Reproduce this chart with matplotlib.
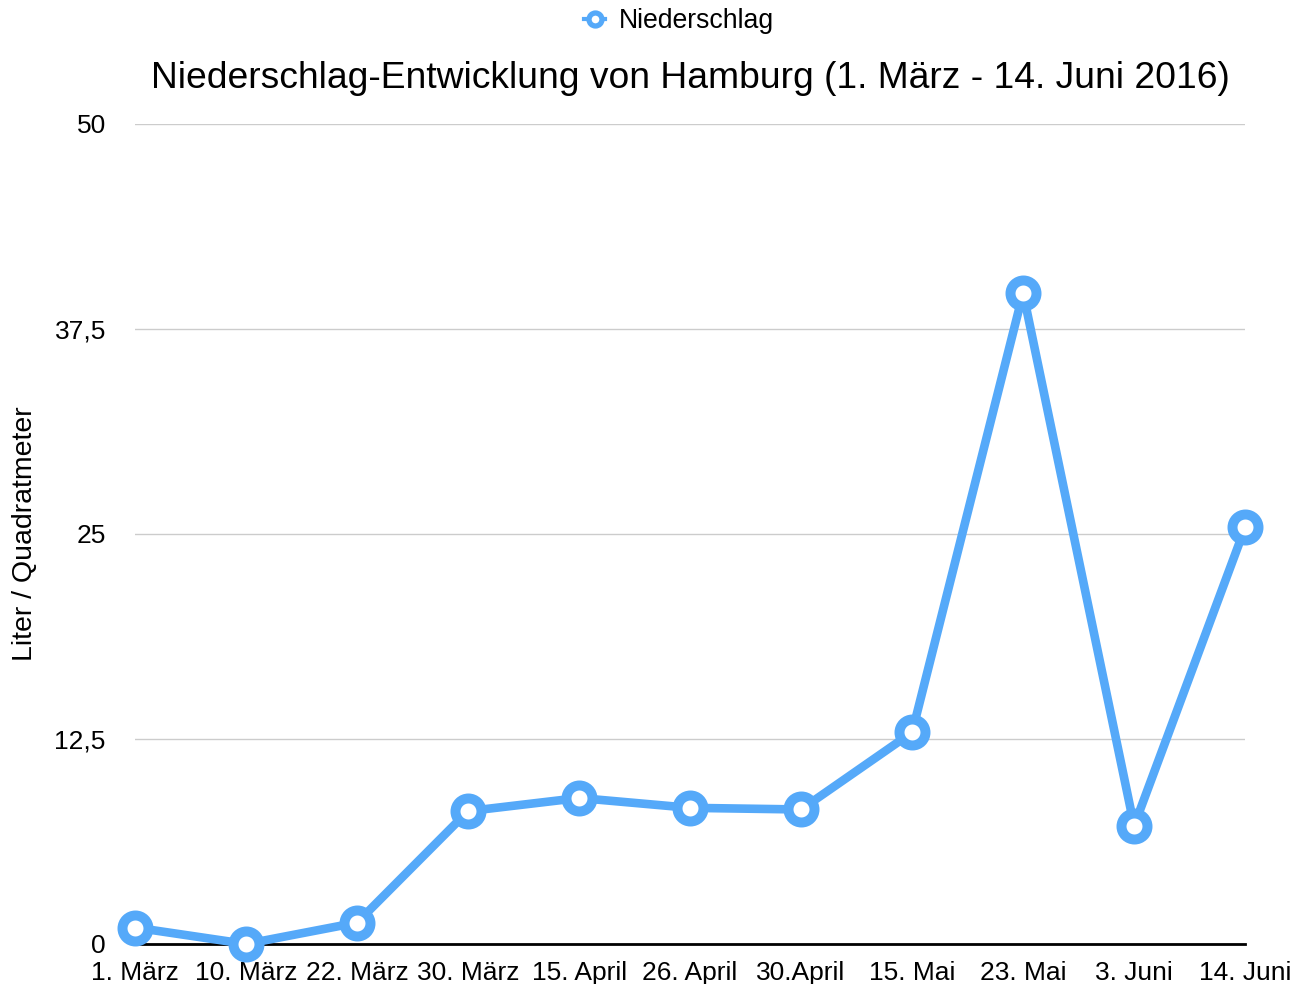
import matplotlib.pyplot as plt
from matplotlib.ticker import FixedLocator

plt.rcParams['font.family'] = ['Liberation Sans', 'DejaVu Sans']

# Daten
dates = ["1. März", "10. März", "22. März", "30. März", "15. April", "26. April",
         "30.April", "15. Mai", "23. Mai", "3. Juni", "14. Juni"]
niederschlag = [1.0, 0.0, 1.3, 8.1, 8.9, 8.3, 8.2, 12.9, 39.7, 7.2, 25.4]
y_ticks = [0, 12.5, 25, 37.5, 50]
y_labels = ["0", "12,5", "25", "37,5", "50"]

blue = "#55a9f9"

fig = plt.figure(figsize=(13.06, 9.84), dpi=100)
ax = fig.add_axes([0.1034, 0.0407, 0.85, 0.8333])

x = list(range(len(dates)))
ax.plot(x, niederschlag, color=blue, lw=6.2, marker="o", ms=18.7,
        mfc="white", mec=blue, mew=7.2, clip_on=False, zorder=3,
        label="Niederschlag")

ax.set_xlim(0, len(dates) - 1)
ax.set_ylim(0, 50)
ax.yaxis.set_major_locator(FixedLocator(y_ticks))
ax.set_yticklabels(y_labels)
ax.set_xticks(x)
ax.set_xticklabels(dates)

ax.grid(axis="y", color="#cccccc", lw=1)
ax.set_axisbelow(True)
for s in ["top", "right", "left"]:
    ax.spines[s].set_visible(False)
ax.spines["bottom"].set_linewidth(2)
ax.spines["bottom"].set_color("black")
ax.spines["bottom"].set_zorder(2)

ax.tick_params(axis="both", length=0, labelsize=19)
ax.tick_params(axis="y", pad=21)
ax.tick_params(axis="x", pad=12)

ax.set_ylabel("Liter / Quadratmeter", fontsize=20.5, labelpad=12)
ax.set_title("Niederschlag-Entwicklung von Hamburg (1. März - 14. Juni 2016)",
             fontsize=26.8, pad=26)

leg = ax.legend(loc="center", bbox_to_anchor=(0.49, 1.125), frameon=False,
                fontsize=19.2, handlelength=0.8, handletextpad=0.5,
                markerscale=0.5)
for h in leg.legend_handles:
    h.set_linewidth(3)
    h.set_markeredgewidth(3.8)

fig.savefig("out.png", dpi=100)
